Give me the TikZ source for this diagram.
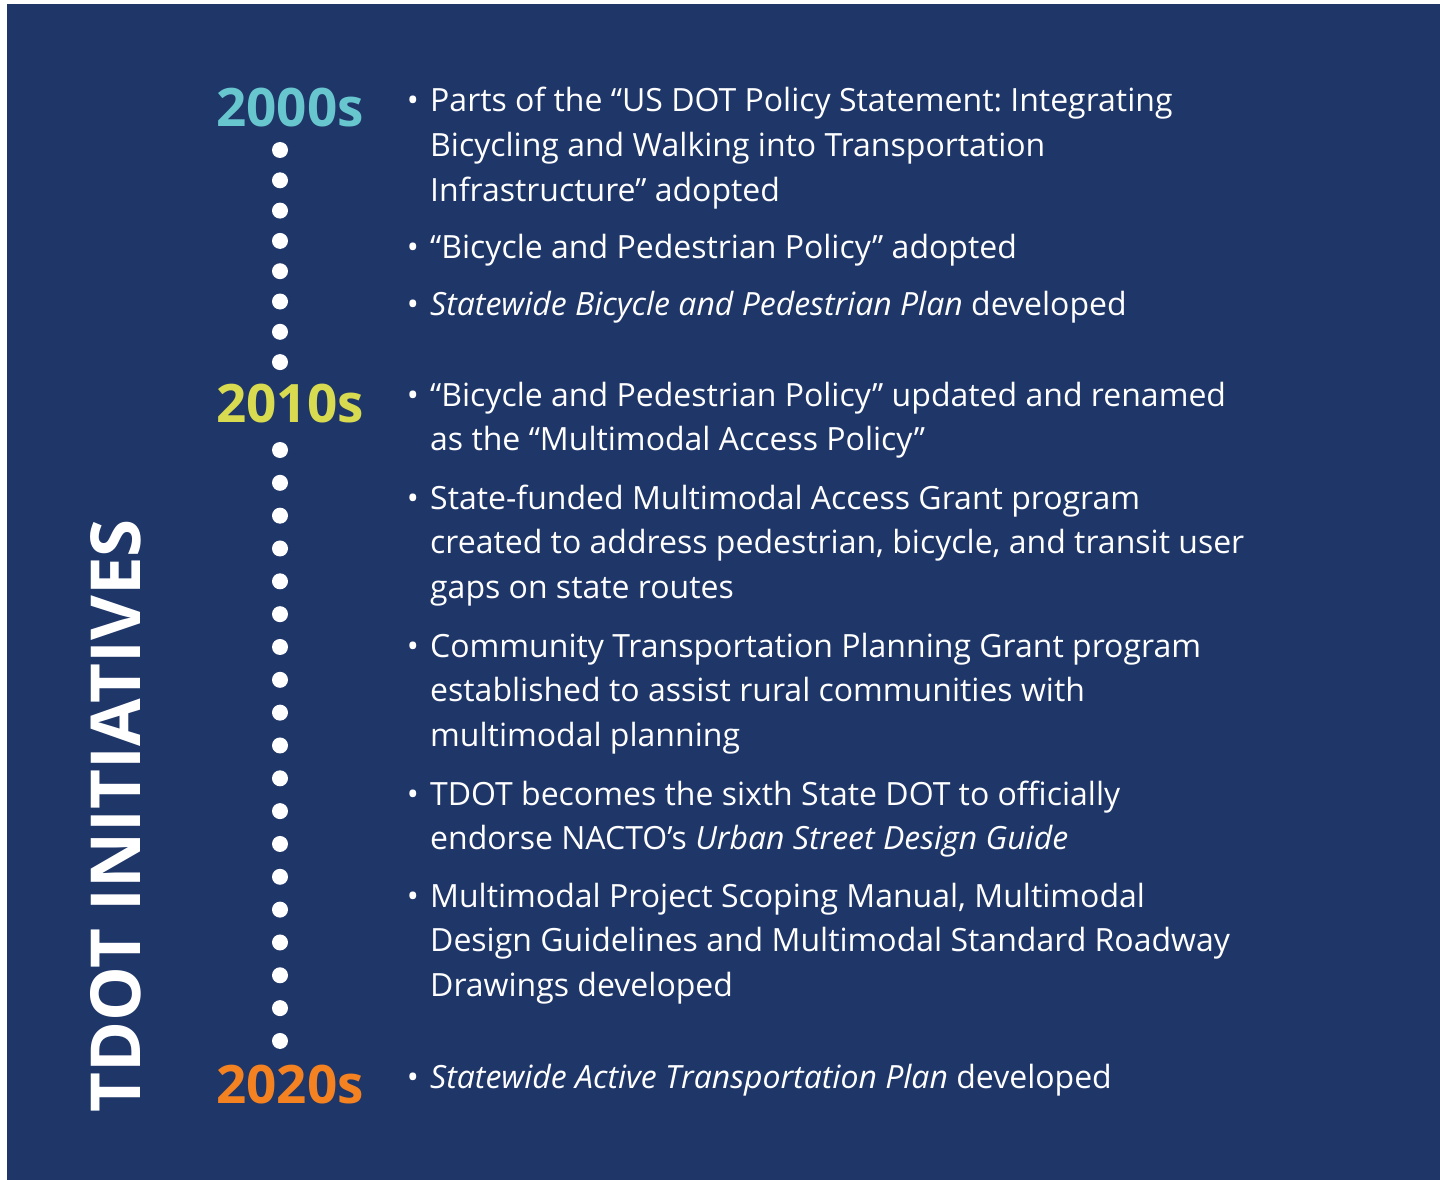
\documentclass[tikz,border=0pt]{standalone}
\usepackage{fontspec}
\setmainfont{Open Sans}
\usepackage{tikz}
\frenchspacing
\definecolor{navy}{RGB}{31,54,105}
\definecolor{teal2000}{RGB}{104,199,206}
\definecolor{lime2010}{RGB}{216,219,79}
\definecolor{orange2020}{RGB}{245,130,32}
\tikzstyle{decade} = [inner sep=0pt, anchor=base, font=\fontsize{53}{60}\bfseries\selectfont]
\tikzstyle{item} = [inner sep=0pt, anchor=base west, align=left, text=white, font=\fontsize{32}{44.9}\selectfont]
\tikzstyle{bul} = [inner sep=0pt, anchor=base, text=white, font=\fontsize{32}{44.9}\selectfont]
\tikzstyle{dot} = [fill=white]

\begin{document}
\begin{tikzpicture}[x=1pt, y=-1pt]
    \useasboundingbox (0,0) rectangle (1440,1180);
    \fill[navy] (7,4) rectangle (1440,1180);
    % side title
    \node (title) [inner sep=0pt, anchor=base, rotate=90, text=white, font=\fontsize{69}{80}\bfseries\selectfont] at (140,816) {TDOT INITIATIVES};
    % decades
    \node (y00) [decade, text=teal2000] at (290,127) {2000s};
    \node (y10) [decade, text=lime2010] at (290,422) {2010s};
    \node (y20) [decade, text=orange2020] at (290,1103) {2020s};
    % dots
    \foreach \i in {0,...,7}
        \fill[dot] (280,150+30.3*\i) circle (8);
    \foreach \i in {0,...,18}
        \fill[dot] (280,450+32.83*\i) circle (8);
    % items (placed at the baseline of their last line)
    \node (t1) [item] at (430,201.3) {Parts of the “US DOT Policy Statement: Integrating\\Bicycling and Walking into Transportation\\Infrastructure” adopted};
    \node (t2) [item] at (430,258) {“Bicycle and Pedestrian Policy” adopted};
    \node (t3) [item] at (430,315) {\textit{Statewide Bicycle and Pedestrian Plan} developed};
    \node (t4) [item] at (430,450.9) {“Bicycle and Pedestrian Policy” updated and renamed\\as the “Multimodal Access Policy”};
    \node (t5) [item] at (430,598.8) {State-funded Multimodal Access Grant program\\created to address pedestrian, bicycle, and transit user\\gaps on state routes};
    \node (t6) [item] at (430,746.8) {Community Transportation Planning Grant program\\established to assist rural communities with\\multimodal planning};
    \node (t7) [item] at (430,849.9) {TDOT becomes the sixth State DOT to officially\\endorse NACTO’s \textit{Urban Street Design Guide}};
    \node (t8) [item] at (430,996.8) {Multimodal Project Scoping Manual, Multimodal\\Design Guidelines and Multimodal Standard Roadway\\Drawings developed};
    \node (t9) [item] at (430,1088) {\textit{Statewide Active Transportation Plan} developed};
    % bullets
    \node (b1) [bul] at (413,111.5) {•};
    \node (b2) [bul] at (413,258) {•};
    \node (b3) [bul] at (413,315) {•};
    \node (b4) [bul] at (413,406) {•};
    \node (b5) [bul] at (413,509) {•};
    \node (b6) [bul] at (413,657) {•};
    \node (b7) [bul] at (413,805) {•};
    \node (b8) [bul] at (413,907) {•};
    \node (b9) [bul] at (413,1088) {•};
\end{tikzpicture}
\end{document}
